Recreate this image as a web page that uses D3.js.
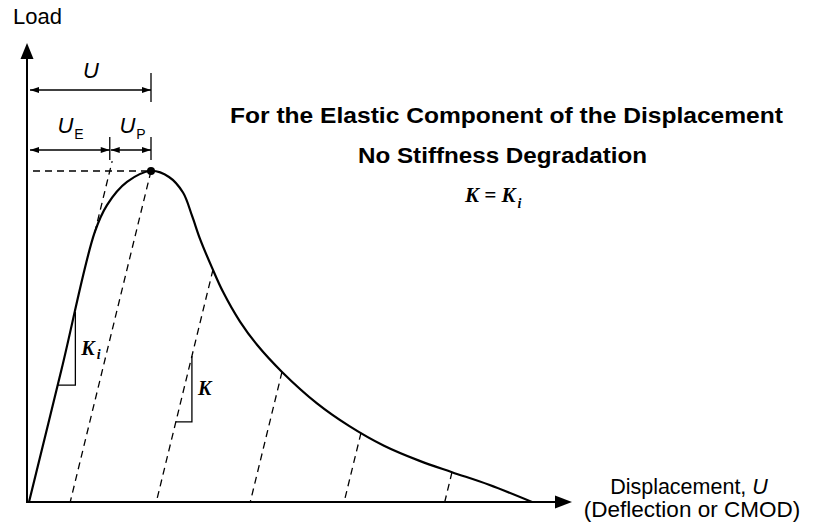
<!DOCTYPE html>
<html lang="en">
<head>
<meta charset="UTF-8">
<title>Load - displacement</title>
<script src="https://d3js.org/d3.v7.min.js"></script>
<style>
  body { margin: 0; background: #fff; }
  text { font-family: "Liberation Sans", Arial, sans-serif; fill: #000; }
  .serif { font-family: "Liberation Serif", "Times New Roman", serif; font-weight: bold; font-style: italic; }
</style>
</head>
<body>
<script>
// load - displacement curve (displacement in arbitrary units, load normalised to peak)
var dispCurve = [0, 0.65, 1.31, 1.56, 1.96, 2.44, 2.80, 3.08, 3.26, 3.42, 3.66, 3.88, 4.22, 4.56, 5.06, 5.76, 6.40, 7.10, 7.80, 8.46, 9.20, 10.06];
var loadCurve = [0, 0.40, 0.813, 0.897, 0.967, 1.0, 0.982, 0.935, 0.865, 0.795, 0.708, 0.635, 0.545, 0.475, 0.393, 0.298, 0.230, 0.170, 0.125, 0.090, 0.052, 0];

// initial stiffness Ki (load per displacement unit)
var Ki = 0.619;

// unloading points on the curve (peak first)
var unloadDisp = [2.44, 3.68, 5.06, 6.64, 8.46];
var unloadLoad = [1.0, 0.702, 0.393, 0.209, 0.090];

// stiffness triangles: which line (-1 = loading line), top/bottom load
var triLine = [-1, 1];
var triTop = [0.574, 0.441];
var triBot = [0.353, 0.242];
var triLabel = ["K", "K"];
var triSub = ["i", ""];

var width = 820, height = 530;

var x = d3.scaleLinear().domain([0, 10]).range([29, 529]);
var y = d3.scaleLinear().domain([0, 1]).range([502, 171]);

var svg = d3.select("body").append("svg")
    .attr("width", width).attr("height", height);

// axes
var xMax = 10.86, yMax = 1.387;
svg.append("line")
    .attr("x1", x(0) - 2).attr("y1", y(0))
    .attr("x2", x(xMax) - 10).attr("y2", y(0))
    .attr("stroke", "#000").attr("stroke-width", 2);
svg.append("line")
    .attr("x1", x(0) - 2).attr("y1", y(0) + 1)
    .attr("x2", x(0) - 2).attr("y2", y(yMax) + 10)
    .attr("stroke", "#000").attr("stroke-width", 2);
// arrow heads
svg.append("path")
    .attr("d", "M" + x(xMax) + "," + y(0) + "l-17,-6.5l0,13z")
    .attr("fill", "#000");
svg.append("path")
    .attr("d", "M" + (x(0) - 2) + "," + y(yMax) + "l-6.5,16l13,0z")
    .attr("fill", "#000");

// main curve
var pts = dispCurve.map(function(d, i) { return [d, loadCurve[i]]; });
var line = d3.line()
    .x(function(d) { return x(d[0]); })
    .y(function(d) { return y(d[1]); })
    .curve(d3.curveCatmullRom.alpha(0.5));
svg.append("path")
    .attr("d", line(pts))
    .attr("fill", "none")
    .attr("stroke", "#000")
    .attr("stroke-width", 2.2);

// dashed unloading lines (slope = Ki)
var dashed = svg.append("g")
    .attr("stroke", "#000")
    .attr("stroke-width", 1.3)
    .attr("stroke-dasharray", "7,5")
    .attr("fill", "none");

var residual = unloadDisp.map(function(u, i) { return u - unloadLoad[i] / Ki; });

dashed.selectAll("line.unload")
    .data(unloadDisp)
    .enter().append("line")
    .attr("class", "unload")
    .attr("x1", function(d) { return x(d); })
    .attr("y1", function(d, i) { return y(unloadLoad[i]); })
    .attr("x2", function(d, i) { return x(residual[i]); })
    .attr("y2", y(0));

// extension of the elastic loading line above the bend
var bendLoad = 0.813, extTop = 1.03;
dashed.append("line")
    .attr("x1", x(bendLoad / Ki)).attr("y1", y(bendLoad))
    .attr("x2", x(extTop / Ki)).attr("y2", y(extTop));

// horizontal line at peak load
dashed.append("line")
    .attr("x1", x(0.08)).attr("y1", y(unloadLoad[0]))
    .attr("x2", x(unloadDisp[0])).attr("y2", y(unloadLoad[0]));

// peak dot
svg.append("circle")
    .attr("cx", x(unloadDisp[0])).attr("cy", y(unloadLoad[0]))
    .attr("r", 4).attr("fill", "#000");

// stiffness triangles
triLine.forEach(function(li, i) {
    var r = li < 0 ? 0 : residual[li];
    var xt = x(r + triTop[i] / Ki), xb = x(r + triBot[i] / Ki);
    svg.append("path")
        .attr("d", "M" + xt + "," + y(triTop[i]) + "L" + xt + "," + y(triBot[i]) + "L" + xb + "," + y(triBot[i]))
        .attr("fill", "none").attr("stroke", "#000").attr("stroke-width", 1.3);
    var t = svg.append("text").attr("class", "serif")
        .attr("x", xt + 6)
        .attr("y", y((triTop[i] + triBot[i]) / 2) + 6)
        .attr("font-size", 20)
        .text(triLabel[i]);
    if (triSub[i]) t.append("tspan").attr("font-size", 14).attr("dx", 2).attr("dy", 4).text(triSub[i]);
});

// dimension arrows
var UE = unloadLoad[0] / Ki, U = unloadDisp[0];
function dim(u1, u2, yy) {
    var a = x(u1) + 1, b = x(u2);
    svg.append("line").attr("x1", a).attr("y1", yy).attr("x2", b).attr("y2", yy)
        .attr("stroke", "#000").attr("stroke-width", 1.3);
    svg.append("path").attr("d", "M" + a + "," + yy + "l9,-3l0,6z").attr("fill", "#000");
    svg.append("path").attr("d", "M" + b + "," + yy + "l-9,-3l0,6z").attr("fill", "#000");
}
function tick(u, y1, y2) {
    svg.append("line").attr("x1", x(u)).attr("y1", y1).attr("x2", x(u)).attr("y2", y2)
        .attr("stroke", "#000").attr("stroke-width", 1.3);
}
dim(0, U, 90);
tick(U, 73, 102);
dim(0, UE, 150);
dim(UE, U, 150);
tick(UE, 137, 160);
tick(U, 137, 160);

function dimLabel(xc, yy, main, sub) {
    var t = svg.append("text").attr("x", xc).attr("y", yy)
        .attr("font-size", 22).attr("font-style", "italic").text(main);
    if (sub) t.append("tspan").attr("font-size", 14).attr("font-style", "normal")
        .attr("dx", 1).attr("dy", 6).text(sub);
}
dimLabel(x(U / 2) - 7, 78, "U", "");
dimLabel(x(UE / 2) - 12, 133, "U", "E");
dimLabel(x((UE + U) / 2) - 11, 133, "U", "P");

// axis titles
svg.append("text").attr("x", 13).attr("y", 24).attr("font-size", 22).text("Load");
var xt1 = svg.append("text").attr("x", 689).attr("y", 494)
    .attr("text-anchor", "middle").attr("font-size", 21.5).text("Displacement, ");
xt1.append("tspan").attr("font-style", "italic").text("U");
svg.append("text").attr("x", 692).attr("y", 517)
    .attr("text-anchor", "middle").attr("font-size", 22.5).text("(Deflection or CMOD)");

// note
svg.append("text").attr("x", 230).attr("y", 123)
    .attr("font-size", 22).attr("font-weight", "bold")
    .attr("textLength", 553).attr("lengthAdjust", "spacingAndGlyphs")
    .text("For the Elastic Component of the Displacement");
svg.append("text").attr("x", 358).attr("y", 163)
    .attr("font-size", 22).attr("font-weight", "bold")
    .attr("textLength", 289).attr("lengthAdjust", "spacingAndGlyphs")
    .text("No Stiffness Degradation");
var kt = svg.append("text").attr("class", "serif").attr("x", 465).attr("y", 202)
    .attr("font-size", 21).text("K = K");
kt.append("tspan").attr("font-size", 14).attr("dx", 2).attr("dy", 6).text("i");
</script>
</body>
</html>
